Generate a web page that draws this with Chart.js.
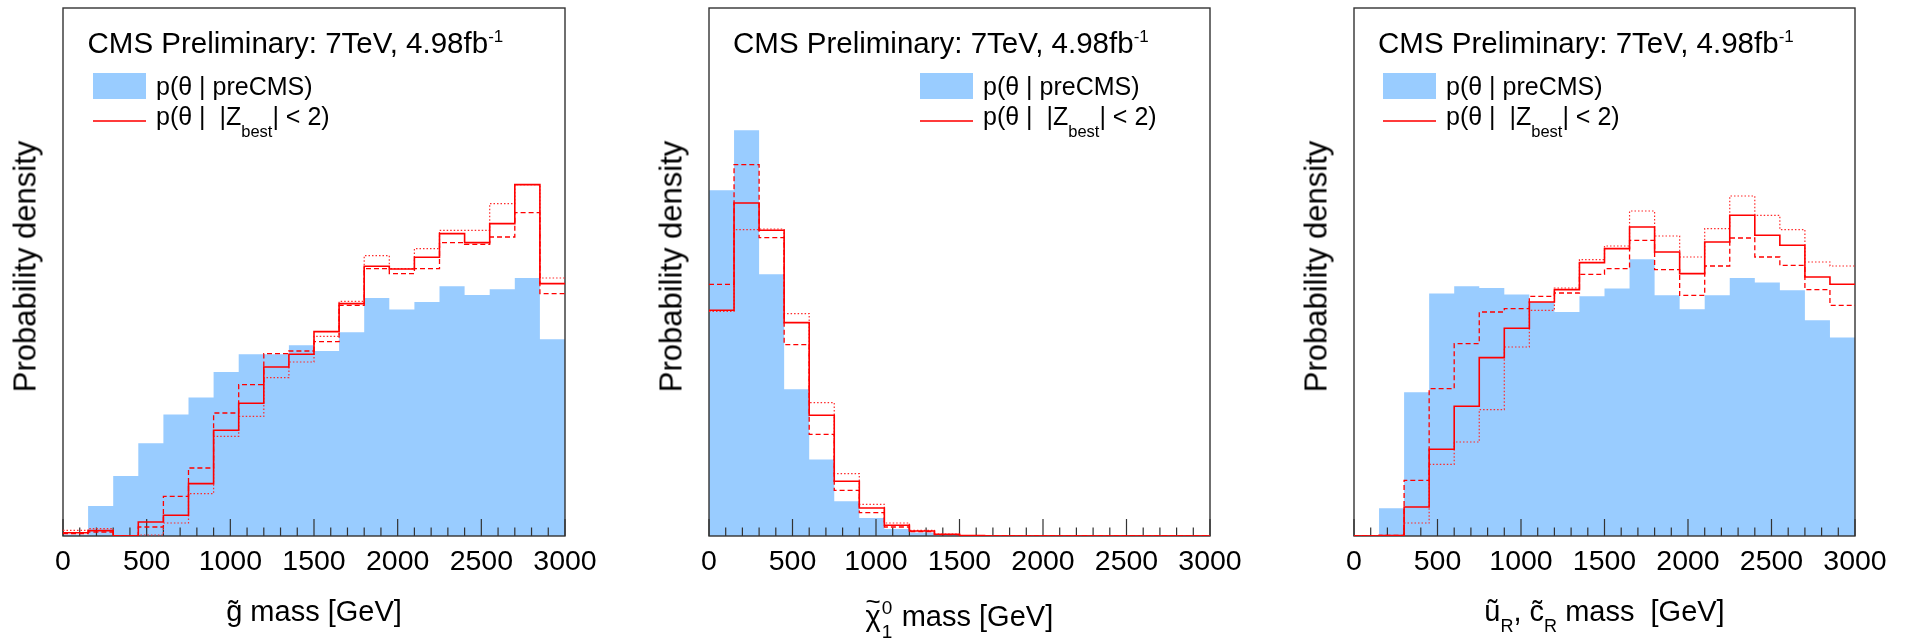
<!DOCTYPE html>
<html lang="en">

<head>
	<meta charset="UTF-8" />
	<title>CMS Preliminary: 7TeV, 4.98fb-1 mass posteriors</title>
	<script src="https://cdn.jsdelivr.net/npm/chart.js@4.4.1/dist/chart.umd.min.js"></script>
	<style>
		body {
			margin: 0;
			width: 1907px;
			height: 639px;
			overflow: hidden;
			background: #fff;
			color: #000;
			font-family: "Liberation Sans", Arial, sans-serif;
		}

		.panel {
			position: absolute;
			top: 0;
			height: 639px;
		}

		.panel canvas {
			position: absolute;
			left: 0;
			top: 0;
		}

		.txt {
			position: absolute;
			white-space: nowrap;
			line-height: 1;
		}

		.cms {
			font-size: 29.5px;
			top: 28px;
		}

		.cms sup {
			font-size: 17px;
			vertical-align: 11px;
			line-height: 0;
		}

		.leg {
			font-size: 25px;
		}

		.leg sub {
			font-size: 16.5px;
			vertical-align: -12px;
			line-height: 0;
		}

		.swatch {
			position: absolute;
			top: 73px;
			width: 53px;
			height: 26px;
			background: #99ccff;
		}

		.redline {
			position: absolute;
			top: 120px;
			width: 53px;
			height: 1.5px;
			background: #ff3b3b;
		}

		.ytitle {
			position: absolute;
			top: 250.5px;
			width: 400px;
			height: 31px;
			line-height: 31px;
			font-size: 31px;
			text-align: center;
			white-space: nowrap;
			transform: rotate(-90deg);
		}

		.xtitle {
			position: absolute;
			top: 597px;
			width: 600px;
			font-size: 29px;
			line-height: 1;
			text-align: center;
			white-space: nowrap;
		}

		.xtitle sub {
			font-size: 18px;
			vertical-align: -11px;
			line-height: 0;
		}

		.chi {
			display: inline-block;
			position: relative;
		}

		.chi .tl {
			position: absolute;
			left: 0;
			width: 100%;
			top: -14px;
			font-size: 26px;
			text-align: center;
		}

		.stk {
			display: inline-block;
			position: relative;
			width: 13px;
			height: 29px;
		}

		.stk span {
			position: absolute;
			left: 1px;
			font-size: 19px;
			line-height: 1;
		}
	</style>
</head>

<body>
	<div class="panel" style="left:0; width:636px">
		<canvas id="gluino" width="636" height="639"></canvas>
		<div class="txt cms" style="left:87.5px">CMS Preliminary: 7TeV, 4.98fb<sup>-1</sup></div>
		<div class="swatch" style="left:93px"></div>
		<div class="txt leg" style="left:156px; top:74px">p(θ | preCMS)</div>
		<div class="redline" style="left:93px"></div>
		<div class="txt leg" style="left:156px; top:104px">p(θ |&nbsp;&nbsp;|Z<sub>best</sub>| &lt; 2)</div>
		<div class="ytitle" style="left:-174.7px">Probability density</div>
		<div class="xtitle" style="left:14px">g̃ mass [GeV]</div>
	</div>

	<div class="panel" style="left:636px; width:636px">
		<canvas id="neutralino" width="636" height="639"></canvas>
		<div class="txt cms" style="left:97px">CMS Preliminary: 7TeV, 4.98fb<sup>-1</sup></div>
		<div class="swatch" style="left:284px"></div>
		<div class="txt leg" style="left:347px; top:74px">p(θ | preCMS)</div>
		<div class="redline" style="left:284px"></div>
		<div class="txt leg" style="left:347px; top:104px">p(θ |&nbsp;&nbsp;|Z<sub>best</sub>| &lt; 2)</div>
		<div class="ytitle" style="left:-165px">Probability density</div>
		<div class="xtitle" style="left:23.3px"><span class="chi">χ<span class="tl">~</span></span><span class="stk"><span style="top:1px">0</span><span style="top:25px">1</span></span> mass [GeV]</div>
	</div>

	<div class="panel" style="left:1272px; width:635px">
		<canvas id="squark" width="635" height="639"></canvas>
		<div class="txt cms" style="left:106px">CMS Preliminary: 7TeV, 4.98fb<sup>-1</sup></div>
		<div class="swatch" style="left:111px"></div>
		<div class="txt leg" style="left:174px; top:74px">p(θ | preCMS)</div>
		<div class="redline" style="left:111px"></div>
		<div class="txt leg" style="left:174px; top:104px">p(θ |&nbsp;&nbsp;|Z<sub>best</sub>| &lt; 2)</div>
		<div class="ytitle" style="left:-155.7px">Probability density</div>
		<div class="xtitle" style="left:32.5px">ũ<sub>R</sub>, c̃<sub>R</sub> mass&nbsp; [GeV]</div>
	</div>

	<script>
		// lower edges of the 150 GeV mass bins, plus the end of the range
		const binLow = [0, 150, 300, 450, 600, 750, 900, 1050, 1200, 1350,
			1500, 1650, 1800, 1950, 2100, 2250, 2400, 2550, 2700, 2850];
		const massMax = 3000;
		const massTicks = [0, 500, 1000, 1500, 2000, 2500, 3000];
		const densityMax = 528; // arbitrary units, no y labels in the original

		// gluino mass
		const gluinoPrior = [1.4, 30, 60, 92.7, 121.4, 138.4, 164, 181.7, 181.7, 190.7,
			185, 203.7, 238, 226.4, 234, 249.7, 241, 246.7, 258, 196.7];
		const gluinoZ = [3.3, 5.4, 0, 14, 20.7, 52.4, 105.7, 132.7, 169, 181.7,
			204.4, 232.4, 269.7, 267, 278.7, 302.4, 293.4, 312.4, 351.4, 252.4];
		const gluinoZdash = [2.4, 4, 0, 9, 39.7, 68, 123, 151.4, 182.4, 185,
			194.4, 230.7, 267.4, 262.4, 267.4, 293.4, 291.7, 299, 323.4, 242.4];
		const gluinoZdot = [5.7, 7.4, 0, 1, 13, 42.4, 99.7, 119.7, 158.4, 174,
			199.7, 234.7, 280.4, 267.4, 287.4, 305.7, 305.7, 332.4, 351.4, 258];

		// neutralino mass
		const neutralinoPrior = [345.7, 405.7, 261.7, 146.7, 76.4, 34.7, 18, 7, 3.4, 1,
			0, 0, 0, 0, 0, 0, 0, 0, 0, 0];
		const neutralinoZ = [225.7, 333, 305.7, 213.4, 120.7, 54.7, 28, 10.7, 5, 1.7,
			0.5, 0, 0, 0, 0, 0, 0, 0, 0, 0];
		const neutralinoZdash = [251.7, 371.4, 298.4, 191.4, 101.7, 45.7, 23.4, 9, 4.4, 1.4,
			0.3, 0, 0, 0, 0, 0, 0, 0, 0, 0];
		const neutralinoZdot = [224.7, 306.4, 307, 222.4, 133.4, 62.4, 31.7, 13, 5.7, 2,
			0.5, 0, 0, 0, 0, 0, 0, 0, 0, 0];

		// squark (u_R, c_R) mass
		const squarkPrior = [1, 27.7, 143.7, 242.4, 249.7, 248, 241.4, 234, 224, 239.7,
			247.4, 276.7, 240.7, 226.7, 240.7, 258, 253.4, 245.7, 215.7, 198.4];
		const squarkZ = [0, 0.5, 29, 86.7, 129.7, 178.4, 207.7, 234, 246.4, 273.4,
			287.4, 309, 284, 262.4, 294, 320.7, 300.7, 290.7, 259, 251.7];
		const squarkZdash = [0, 0.5, 55.7, 147.4, 192.4, 224, 227.4, 239.7, 243, 261.7,
			267.4, 295.7, 266.4, 240.7, 270, 298, 279, 270.7, 246.4, 230.7];
		const squarkZdot = [0, 0.5, 13, 71.7, 94, 126.4, 189, 225.7, 248, 276.4,
			290, 325, 300, 279, 307.4, 340, 320.7, 306.4, 274, 270];

		function steps(vals) {
			const pts = binLow.map((x, i) => ({ x: x, y: vals[i] }));
			pts.push({ x: massMax, y: vals[vals.length - 1] });
			return pts;
		}

		// box + inward ticks, drawn right after the filled prior so the red lines sit on top
		const framePlugin = {
			id: 'frame',
			afterDatasetDraw(chart, args) {
				if (args.index !== 0) return;
				const ctx = chart.ctx;
				const a = chart.chartArea;
				const xs = chart.scales.x;
				ctx.save();
				ctx.strokeStyle = '#333';
				ctx.lineWidth = 1.4;
				ctx.strokeRect(a.left, a.top, a.right - a.left, a.bottom - a.top);
				ctx.lineWidth = 1.2;
				ctx.beginPath();
				for (let v = 0; v <= massMax; v += 100) {
					const px = xs.getPixelForValue(v);
					const len = v % 500 === 0 ? 17 : 8.5;
					ctx.moveTo(px, a.bottom);
					ctx.lineTo(px, a.bottom - len);
				}
				ctx.stroke();
				ctx.restore();
			}
		};

		function makePanel(id, padLeft, padRight, prior, z, zDash, zDot) {
			const ctx = document.getElementById(id).getContext('2d');
			return new Chart(ctx, {
				type: 'line',
				data: {
					datasets: [{
							label: 'p(θ | preCMS)',
							data: steps(prior),
							stepped: true,
							fill: 'origin',
							backgroundColor: '#99ccff',
							borderColor: 'rgba(0,0,0,0)',
							borderWidth: 0,
							pointRadius: 0,
							order: 10
						},
						{
							label: 'dotted',
							data: steps(zDot),
							stepped: true,
							fill: false,
							borderColor: '#ff2a2a',
							borderWidth: 1.2,
							borderDash: [1.5, 2],
							pointRadius: 0,
							order: 3
						},
						{
							label: 'dashed',
							data: steps(zDash),
							stepped: true,
							fill: false,
							borderColor: '#ff0000',
							borderWidth: 1.3,
							borderDash: [5, 3],
							pointRadius: 0,
							order: 2
						},
						{
							label: 'p(θ | |Zbest| < 2)',
							data: steps(z),
							stepped: true,
							fill: false,
							borderColor: '#ff0000',
							borderWidth: 1.6,
							pointRadius: 0,
							order: 1
						}
					]
				},
				options: {
					responsive: false,
					maintainAspectRatio: false,
					animation: false,
					events: [],
					layout: {
						padding: { left: padLeft, right: padRight, top: 8, bottom: 0 }
					},
					plugins: {
						legend: { display: false },
						tooltip: { enabled: false }
					},
					scales: {
						x: {
							type: 'linear',
							position: 'bottom',
							min: 0,
							max: massMax,
							grid: { display: false, drawTicks: false },
							border: { display: false },
							ticks: {
								color: '#000',
								padding: 9,
								maxRotation: 0,
								autoSkip: false,
								font: { family: '"Liberation Sans", Arial, sans-serif', size: 28.5 },
								callback: v => String(v)
							},
							afterBuildTicks(scale) {
								scale.ticks = massTicks.map(v => ({ value: v }));
							},
							afterFit(scale) {
								scale.height = 103;
							}
						},
						y: {
							display: false,
							min: 0,
							max: densityMax
						}
					}
				},
				plugins: [framePlugin]
			});
		}

		makePanel('gluino', 63, 71, gluinoPrior, gluinoZ, gluinoZdash, gluinoZdot);
		makePanel('neutralino', 73, 62, neutralinoPrior, neutralinoZ, neutralinoZdash, neutralinoZdot);
		makePanel('squark', 82, 52, squarkPrior, squarkZ, squarkZdash, squarkZdot);
	</script>
</body>

</html>
